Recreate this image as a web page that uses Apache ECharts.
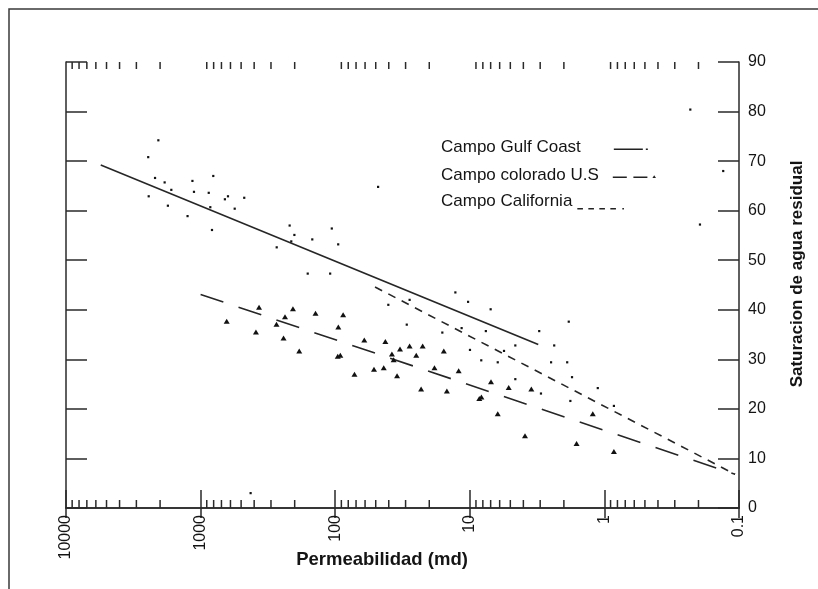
<!DOCTYPE html>
<html>
<head>
<meta charset="utf-8">
<script src="https://cdn.jsdelivr.net/npm/echarts@6/dist/echarts.min.js"></script>
<style>
  html, body { margin: 0; padding: 0; background: #fff; }
  #chart { width: 818px; height: 589px; }
</style>
</head>
<body>
<div id="chart"></div>
<script>
// Permeability axis (log, decreasing to the right)
const permTicks = [0.1, 1, 10, 100, 1000, 10000];
const permTickLabels = ['0.1', '1', '10', '100', '1000', '10000'];
const minorDecades = [0.1, 1, 10, 100, 1000];
const minorSteps = [2, 3, 4, 5, 6, 7, 8, 9];

// Measured samples: [permeability md, residual water saturation %]
const gulfCoastPoints = [
  [2060, 74.2], [2450, 70.8], [2180, 66.6], [1850, 65.7], [1650, 64.2],
  [2430, 62.9], [1750, 61.0], [1150, 66.0], [1120, 63.8], [805, 67.0],
  [870, 63.6], [1250, 58.9], [847, 60.7], [660, 62.3], [626, 62.9],
  [474, 62.6], [558, 60.4], [823, 56.1], [218, 57.0], [201, 55.1],
  [212, 53.8], [272, 52.6], [148, 54.2], [106, 56.4], [95, 53.2],
  [160, 47.3], [109, 47.3], [48, 64.8], [12.8, 43.5], [10.3, 41.6],
  [7.0, 40.1], [1.84, 37.6], [3.05, 35.7], [2.36, 32.8], [0.23, 80.4],
  [0.131, 68.0], [0.195, 57.2], [425, 3.0]
];
const coloradoPoints = [
  [640, 37.7], [368, 40.5], [388, 35.5], [273, 37.1], [236, 38.6],
  [206, 40.2], [242, 34.3], [185, 31.7], [140, 39.3], [87.3, 39.0],
  [94.8, 36.5], [60.8, 33.9], [95.7, 30.6], [91.6, 30.8], [42.4, 33.6],
  [33.0, 32.1], [37.9, 31.1], [28.0, 32.7], [22.4, 32.7], [25.0, 30.8],
  [15.6, 31.7], [36.8, 29.9], [43.6, 28.3], [51.5, 28.0], [71.9, 27.0],
  [34.7, 26.7], [18.3, 28.3], [12.1, 27.7], [23.0, 24.0], [14.8, 23.6],
  [8.5, 22.1], [8.2, 22.4], [6.96, 25.5], [5.14, 24.3], [3.49, 24.0],
  [6.2, 19.0], [1.22, 19.0], [3.89, 14.6], [1.61, 13.0], [0.85, 11.4]
];
const californiaPoints = [
  [40.3, 41.0], [28.0, 42.0], [29.4, 37.0], [16.0, 35.4], [7.6, 35.7],
  [11.5, 36.3], [9.97, 31.9], [4.59, 32.8], [5.57, 31.7], [8.22, 29.8],
  [6.2, 29.4], [2.49, 29.4], [1.89, 29.4], [1.74, 26.4], [4.59, 26.0],
  [2.96, 23.1], [1.12, 24.2], [1.79, 21.6], [0.85, 20.6]
];

// Fitted trend lines (end points)
const gulfCoastTrend = [[5520, 69.2], [3.1, 33.0]];
const coloradoTrend = [[1000, 43.1], [0.107, 6.8]];
const californiaTrend = [[50.6, 44.6], [0.107, 6.8]];

const seriesNames = ['Campo Gulf Coast', 'Campo colorado U.S', 'Campo California'];

const FONT = "'Liberation Sans', Arial, sans-serif";
const INK = '#141414';
const AXIS = '#2a2a2a';

const minorTickValues = [];
minorDecades.forEach(d => minorSteps.forEach(m => minorTickValues.push(d * m)));

function permLabel(v) {
  let best = 0;
  permTicks.forEach((t, i) => {
    if (Math.abs(Math.log10(t) - Math.log10(v)) < Math.abs(Math.log10(permTicks[best]) - Math.log10(v))) best = i;
  });
  return permTickLabels[best];
}

const axisLine = { show: true, lineStyle: { color: AXIS, width: 1.5 } };
const tickLine = { color: AXIS, width: 1.5 };

const legendText = (key, pad) => ({
  fontSize: 17, color: INK, fontFamily: FONT,
  rich: { [key]: { fontSize: 17, color: INK, fontFamily: FONT, padding: pad } }
});

const chart = echarts.init(document.getElementById('chart'), null, { renderer: 'canvas' });

chart.setOption({
  animation: false,
  backgroundColor: '#ffffff',
  graphic: [{
    type: 'rect', silent: true,
    shape: { x: 9, y: 9, width: 900, height: 700 },
    style: { fill: 'none', stroke: '#3a3a3a', lineWidth: 1.5 }
  }],
  grid: { left: 66, right: 79, top: 62, bottom: 81 },
  xAxis: [{
    type: 'log', logBase: 10, min: 0.1, max: 10000, inverse: true, position: 'bottom',
    axisLine: axisLine,
    axisTick: { show: true, inside: true, length: 18, lineStyle: tickLine },
    axisLabel: { rotate: 90, margin: 7, fontSize: 16, color: INK, fontFamily: FONT, formatter: permLabel },
    splitLine: { show: false },
    name: 'Permeabilidad (md)', nameLocation: 'middle', nameGap: 42, nameMoveOverlap: false,
    nameTextStyle: { fontSize: 18.5, fontWeight: 'bold', color: INK, fontFamily: FONT, padding: [0, 41, 0, 0] }
  }, {
    type: 'log', logBase: 10, min: 0.1, max: 10000, inverse: true, position: 'top',
    axisLine: axisLine,
    axisTick: { show: true, inside: true, length: 10, lineStyle: tickLine },
    axisLabel: { show: false },
    splitLine: { show: false }
  }],
  yAxis: [{
    type: 'value', min: 0, max: 90, interval: 10, position: 'right',
    axisLine: axisLine,
    axisTick: { show: true, inside: true, length: 21, lineStyle: tickLine },
    axisLabel: { margin: 9, fontSize: 16, color: INK, fontFamily: FONT },
    splitLine: { show: false },
    name: 'Saturacion de agua residual', nameLocation: 'middle', nameGap: 50,
    nameTextStyle: { fontSize: 17, fontWeight: 'bold', color: INK, fontFamily: FONT, padding: [0, 0, 0, 22] }
  }, {
    type: 'value', min: 0, max: 90, interval: 10, position: 'left',
    axisLine: axisLine,
    axisTick: { show: true, inside: true, length: 21, lineStyle: tickLine },
    axisLabel: { show: false },
    splitLine: { show: false }
  }],
  legend: [{
    left: 441, top: 139.3, padding: 0, orient: 'vertical', align: 'right', selectedMode: false,
    itemWidth: 34, itemHeight: 1.6,
    data: [{ name: seriesNames[0], icon: 'path://M0,0h29v1.6h-29z M32,0h2v1.6h-2z' }],
    formatter: '{g|{name}}', textStyle: legendText('g', [0, 28, 3, 0])
  }, {
    left: 441, top: 167.2, padding: 0, orient: 'vertical', align: 'right', selectedMode: false,
    itemWidth: 43.2, itemHeight: 2.8,
    data: [{ name: seriesNames[1], icon: 'path://M0,1.2h14v1.6h-14z M20.6,1.2h14v1.6h-14z M39.6,2.8L41.4,0L43.2,2.8z' }],
    formatter: '{c|{name}}', textStyle: legendText('c', [0, 9, 2, 0])
  }, {
    left: 441, top: 193.2, padding: 0, orient: 'vertical', align: 'right', selectedMode: false,
    itemWidth: 46.6, itemHeight: 1.6,
    data: [{ name: seriesNames[2], icon: 'path://M0,0h5.6v1.6h-5.6z M11,0h5.6v1.6h-5.6z M22,0h5.6v1.6h-5.6z M33,0h5.6v1.6h-5.6z M45,0h1.6v1.6h-1.6z' }],
    formatter: '{k|{name}}', textStyle: legendText('k', [0, 0, 14, 0])
  }],
  series: [
    {
      // log-scale minor ticks on the bottom and top axes
      type: 'custom', silent: true, xAxisIndex: 0, yAxisIndex: 0, z: 5,
      data: minorTickValues.map(v => [v, 0]),
      renderItem: function (params, api) {
        const v = api.value(0);
        const b = api.coord([v, 0]);
        const t = api.coord([v, 90]);
        const st = { stroke: AXIS, lineWidth: 1.5 };
        return {
          type: 'group',
          children: [
            { type: 'line', shape: { x1: b[0], y1: b[1], x2: b[0], y2: b[1] - 8 }, style: st },
            { type: 'line', shape: { x1: t[0], y1: t[1], x2: t[0], y2: t[1] + 7 }, style: st }
          ]
        };
      }
    },
    {
      name: seriesNames[0], type: 'line', data: gulfCoastTrend, symbol: 'none',
      itemStyle: { color: '#222' }, lineStyle: { color: '#262626', width: 1.6, type: 'solid' }, z: 3
    },
    {
      name: seriesNames[1], type: 'line', data: coloradoTrend, symbol: 'none',
      itemStyle: { color: '#222' }, lineStyle: { color: '#262626', width: 1.6, type: [24, 16] }, z: 3
    },
    {
      name: seriesNames[2], type: 'line', data: californiaTrend, symbol: 'none',
      itemStyle: { color: '#222' }, lineStyle: { color: '#262626', width: 1.6, type: [8, 7] }, z: 3
    },
    {
      name: seriesNames[0], type: 'scatter', data: gulfCoastPoints, symbol: 'rect', symbolSize: 2.2,
      itemStyle: { color: '#111', opacity: 1 }, z: 4
    },
    {
      name: seriesNames[1], type: 'scatter', data: coloradoPoints, symbol: 'triangle', symbolSize: [6, 5],
      itemStyle: { color: '#111', opacity: 1 }, z: 4
    },
    {
      name: seriesNames[2], type: 'scatter', data: californiaPoints, symbol: 'rect', symbolSize: 2.2,
      itemStyle: { color: '#111', opacity: 1 }, z: 4
    }
  ]
});
</script>
</body>
</html>
